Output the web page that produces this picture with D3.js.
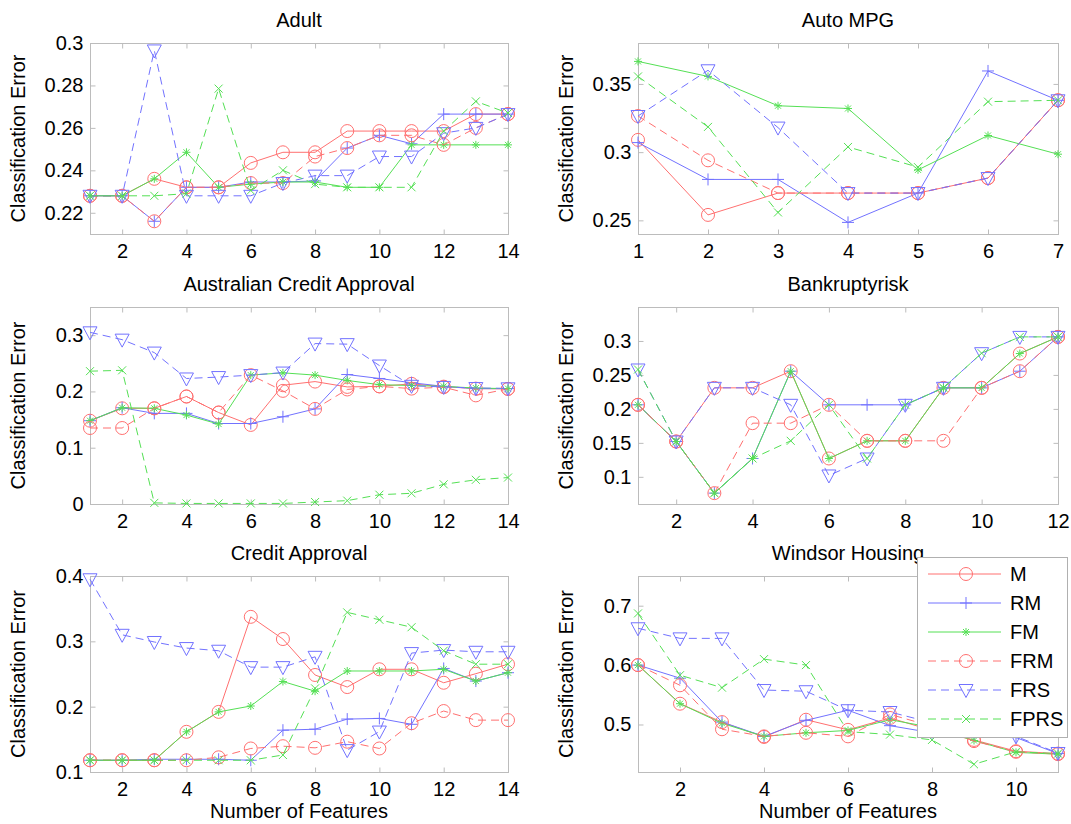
<!DOCTYPE html>
<html>
<head>
<meta charset="utf-8">
<script src="https://cdn.jsdelivr.net/npm/d3@7"></script>
<style>
  html, body { margin: 0; padding: 0; background: #fff; }
  svg { display: block; font-family: "Liberation Sans", Arial, Helvetica, sans-serif; }
</style>
</head>
<body>
<svg id="fig" width="1071" height="824"></svg>
<script>
// Feature-selection methods compared in every panel (same order in each data block)
const seriesNames = ["M", "RM", "FM", "FRM", "FRS", "FPRS"];

// Classification error vs. number of features, one row per method
const adultErr = [
  [0.228, 0.228, 0.236, 0.232, 0.232, 0.2435, 0.2485, 0.2485, 0.2585, 0.2585, 0.2585, 0.2585, 0.2665, 0.2665],
  [0.228, 0.228, 0.216, 0.232, 0.232, 0.2345, 0.2345, 0.235, 0.2505, 0.2565, 0.2525, 0.2665, 0.2665, 0.2665],
  [0.228, 0.228, 0.236, 0.2485, 0.232, 0.2335, 0.2345, 0.2345, 0.232, 0.232, 0.252, 0.252, 0.252, 0.252],
  [0.228, 0.228, 0.216, 0.232, 0.232, 0.234, 0.234, 0.2465, 0.2505, 0.2565, 0.2565, 0.252, 0.26, 0.2665],
  [0.228, 0.228, 0.2965, 0.228, 0.228, 0.228, 0.234, 0.2375, 0.2375, 0.2465, 0.2465, 0.2575, 0.26, 0.2665],
  [0.228, 0.228, 0.228, 0.229, 0.2785, 0.2305, 0.24, 0.2335, 0.232, 0.232, 0.232, 0.2585, 0.2725, 0.267]
];
const autoMpgErr = [
  [0.309, 0.254, 0.270, 0.270, 0.270, 0.281, 0.338],
  [0.307, 0.280, 0.280, 0.2485, 0.270, 0.3595, 0.338],
  [0.3665, 0.3555, 0.334, 0.332, 0.287, 0.3122, 0.2985],
  [0.3265, 0.294, 0.270, 0.270, 0.270, 0.281, 0.338],
  [0.3265, 0.360, 0.318, 0.270, 0.270, 0.281, 0.338],
  [0.3555, 0.3185, 0.2558, 0.3038, 0.289, 0.337, 0.338]
];
const australianErr = [
  [0.148, 0.170, 0.170, 0.191, 0.1625, 0.1405, 0.211, 0.2175, 0.208, 0.209, 0.2135, 0.2085, 0.205, 0.2045],
  [0.148, 0.171, 0.161, 0.161, 0.143, 0.143, 0.155, 0.169, 0.230, 0.223, 0.2155, 0.209, 0.205, 0.205],
  [0.148, 0.171, 0.170, 0.158, 0.142, 0.229, 0.233, 0.229, 0.2195, 0.212, 0.2105, 0.209, 0.206, 0.205],
  [0.135, 0.135, 0.170, 0.191, 0.1625, 0.229, 0.201, 0.169, 0.2035, 0.209, 0.205, 0.2075, 0.193, 0.2045],
  [0.305, 0.292, 0.269, 0.223, 0.2255, 0.229, 0.2335, 0.285, 0.284, 0.246, 0.210, 0.208, 0.206, 0.2055],
  [0.236, 0.2375, 0.002, 0.001, 0.001, 0.001, 0.001, 0.0035, 0.006, 0.0165, 0.019, 0.035, 0.043, 0.047]
];
const bankruptcyErr = [
  [0.206, 0.152, 0.231, 0.231, 0.2555, 0.127, 0.153, 0.153, 0.231, 0.231, 0.2815, 0.306],
  [0.206, 0.152, 0.076, 0.127, 0.2555, 0.206, 0.206, 0.206, 0.231, 0.231, 0.2555, 0.306],
  [0.206, 0.152, 0.076, 0.127, 0.2555, 0.127, 0.153, 0.153, 0.231, 0.231, 0.2815, 0.306],
  [0.206, 0.152, 0.076, 0.179, 0.179, 0.206, 0.153, 0.153, 0.153, 0.231, 0.2555, 0.306],
  [0.258, 0.152, 0.231, 0.231, 0.206, 0.102, 0.127, 0.206, 0.231, 0.282, 0.306, 0.306],
  [0.258, 0.152, 0.076, 0.127, 0.153, 0.206, 0.127, 0.206, 0.231, 0.282, 0.306, 0.306]
];
const creditErr = [
  [0.118, 0.118, 0.118, 0.1615, 0.192, 0.3375, 0.3035, 0.2485, 0.230, 0.2572, 0.2572, 0.2366, 0.2505, 0.265],
  [0.118, 0.118, 0.1195, 0.1195, 0.1195, 0.118, 0.164, 0.1655, 0.181, 0.182, 0.173, 0.2585, 0.2392, 0.252],
  [0.118, 0.118, 0.118, 0.1615, 0.192, 0.201, 0.2385, 0.2237, 0.2546, 0.2546, 0.2546, 0.2572, 0.2392, 0.252],
  [0.118, 0.118, 0.118, 0.118, 0.1225, 0.136, 0.1395, 0.137, 0.1464, 0.136, 0.1747, 0.1933, 0.1794, 0.1794],
  [0.395, 0.310, 0.299, 0.2897, 0.2856, 0.2605, 0.2605, 0.2763, 0.1335, 0.1619, 0.282, 0.2866, 0.284, 0.284],
  [0.118, 0.118, 0.118, 0.118, 0.118, 0.118, 0.126, 0.228, 0.3443, 0.333, 0.3216, 0.2856, 0.265, 0.265]
];
const windsorErr = [
  [0.600, 0.535, 0.504, 0.479, 0.508, 0.491, 0.511, 0.490, 0.474, 0.455, 0.451],
  [0.600, 0.578, 0.504, 0.480, 0.507, 0.524, 0.498, 0.486, 0.481, 0.478, 0.451],
  [0.600, 0.535, 0.502, 0.480, 0.486, 0.490, 0.508, 0.495, 0.473, 0.453, 0.450],
  [0.600, 0.566, 0.492, 0.480, 0.486, 0.480, 0.517, 0.497, 0.472, 0.454, 0.450],
  [0.662, 0.645, 0.645, 0.558, 0.556, 0.524, 0.521, 0.503, 0.490, 0.480, 0.452],
  [0.687, 0.583, 0.562, 0.610, 0.600, 0.488, 0.483, 0.474, 0.433, 0.454, 0.451]
];

// Tick values per panel
const adultXTicks = [2, 4, 6, 8, 10, 12, 14];
const adultYTicks = [0.22, 0.24, 0.26, 0.28, 0.3];
const autoMpgXTicks = [1, 2, 3, 4, 5, 6, 7];
const autoMpgYTicks = [0.25, 0.3, 0.35];
const australianXTicks = [2, 4, 6, 8, 10, 12, 14];
const australianYTicks = [0, 0.1, 0.2, 0.3];
const bankruptcyXTicks = [2, 4, 6, 8, 10, 12];
const bankruptcyYTicks = [0.1, 0.15, 0.2, 0.25, 0.3];
const creditXTicks = [2, 4, 6, 8, 10, 12, 14];
const creditYTicks = [0.1, 0.2, 0.3, 0.4];
const windsorXTicks = [2, 4, 6, 8, 10];
const windsorYTicks = [0.5, 0.6, 0.7];

const panels = [
  { title: "Adult", err: adultErr, xTicks: adultXTicks, yTicks: adultYTicks, yDomain: [0.21, 0.30], row: 0, col: 0 },
  { title: "Auto MPG", err: autoMpgErr, xTicks: autoMpgXTicks, yTicks: autoMpgYTicks, yDomain: [0.24, 0.38], row: 0, col: 1 },
  { title: "Australian Credit Approval", err: australianErr, xTicks: australianXTicks, yTicks: australianYTicks, yDomain: [0, 0.35], row: 1, col: 0 },
  { title: "Bankruptyrisk", err: bankruptcyErr, xTicks: bankruptcyXTicks, yTicks: bankruptcyYTicks, yDomain: [0.06, 0.35], row: 1, col: 1 },
  { title: "Credit Approval", err: creditErr, xTicks: creditXTicks, yTicks: creditYTicks, yDomain: [0.1, 0.4], row: 2, col: 0 },
  { title: "Windsor Housing", err: windsorErr, xTicks: windsorXTicks, yTicks: windsorYTicks, yDomain: [0.42, 0.75], row: 2, col: 1 }
];

// Layout of the 3x2 grid of axes
const colX = [[90, 508], [638, 1058]];
const rowY = [[43, 234], [307, 504], [576, 772]];

const RED = "#ff7070", BLUE = "#7272ff", GREEN = "#55e055";
const FRAME = "#bcbcbc";
const DASH = "8,5";
const styles = [
  { color: RED, dash: null, marker: "circle" },
  { color: BLUE, dash: null, marker: "plus" },
  { color: GREEN, dash: null, marker: "star" },
  { color: RED, dash: DASH, marker: "circle" },
  { color: BLUE, dash: DASH, marker: "tri" },
  { color: GREEN, dash: DASH, marker: "cross" }
];

const markerPaths = {
  plus: "M-6,0H6M0,-6V6",
  star: "M-4,0H4M0,-4V4M-3,-3L3,3M-3,3L3,-3",
  cross: "M-4,-4L4,4M-4,4L4,-4",
  tri: "M-7,-5.5L7,-5.5L0,7.5Z"
};

function drawMarker(g, type, color) {
  if (type === "circle") {
    g.append("circle").attr("r", 6.5).attr("fill", "none")
      .attr("stroke", color).attr("stroke-width", 1);
  } else {
    g.append("path").attr("d", markerPaths[type]).attr("fill", "none")
      .attr("stroke", color).attr("stroke-width", 1);
  }
}

const svg = d3.select("#fig");
const FONT = 20;

panels.forEach(p => {
  const [x0, x1] = colX[p.col];
  const [y0, y1] = rowY[p.row];
  const n = p.err[0].length;
  const x = d3.scaleLinear().domain([1, n]).range([x0, x1]);
  const y = d3.scaleLinear().domain(p.yDomain).range([y1, y0]);
  const g = svg.append("g");

  // frame
  g.append("rect").attr("x", x0 + 0.5).attr("y", y0 + 0.5)
    .attr("width", x1 - x0).attr("height", y1 - y0)
    .attr("fill", "#fff").attr("stroke", FRAME).attr("stroke-width", 1);

  const styleAxis = (sel) => {
    sel.select(".domain").remove();
    sel.selectAll(".tick line").attr("stroke", FRAME);
    sel.selectAll(".tick text").attr("fill", "#000")
      .attr("font-size", FONT).attr("font-family", "Liberation Sans, Arial, sans-serif");
  };

  // inward ticks on all four sides, labels on bottom and left
  g.append("g").attr("transform", `translate(0,${y1 + 0.5})`)
    .call(d3.axisBottom(x).tickValues(p.xTicks).tickSizeInner(-5).tickSizeOuter(0)
      .tickPadding(9).tickFormat(d3.format("d")))
    .call(styleAxis);
  g.append("g").attr("transform", `translate(0,${y0 + 0.5})`)
    .call(d3.axisTop(x).tickValues(p.xTicks).tickSizeInner(-5).tickSizeOuter(0).tickFormat(""))
    .call(styleAxis);
  g.append("g").attr("transform", `translate(${x0 + 0.5},0)`)
    .call(d3.axisLeft(y).tickValues(p.yTicks).tickSizeInner(-5).tickSizeOuter(0)
      .tickPadding(7).tickFormat(d3.format("~g")))
    .call(styleAxis);
  g.append("g").attr("transform", `translate(${x1 + 0.5},0)`)
    .call(d3.axisRight(y).tickValues(p.yTicks).tickSizeInner(-5).tickSizeOuter(0).tickFormat(""))
    .call(styleAxis);

  // series lines and markers
  const line = d3.line().x((d, i) => x(i + 1)).y(d => y(d));
  p.err.forEach((vals, si) => {
    const st = styles[si];
    g.append("path").datum(vals).attr("d", line)
      .attr("fill", "none").attr("stroke", st.color).attr("stroke-width", 1)
      .attr("stroke-dasharray", st.dash);
    vals.forEach((v, i) => {
      const m = g.append("g").attr("transform", `translate(${x(i + 1)},${y(v)})`);
      drawMarker(m, st.marker, st.color);
    });
  });

  // title
  g.append("text").attr("x", (x0 + x1) / 2).attr("y", y0 - 16)
    .attr("text-anchor", "middle").attr("font-size", FONT).attr("fill", "#000")
    .text(p.title);

  // y label
  g.append("text")
    .attr("transform", `translate(${x0 - 65},${(y0 + y1) / 2}) rotate(-90)`)
    .attr("text-anchor", "middle").attr("font-size", FONT).attr("fill", "#000")
    .text("Classification Error");

  // x label on the bottom row
  if (p.row === 2) {
    g.append("text").attr("x", (x0 + x1) / 2).attr("y", y1 + 46)
      .attr("text-anchor", "middle").attr("font-size", FONT).attr("fill", "#000")
      .text("Number of Features");
  }
});

// legend box, placed over the Windsor Housing axes
const leg = svg.append("g").attr("transform", "translate(917,557)");
leg.append("rect").attr("x", 0.5).attr("y", 0.5).attr("width", 150).attr("height", 180)
  .attr("fill", "#fff").attr("stroke", "#b0b0b0").attr("stroke-width", 1);
seriesNames.forEach((name, i) => {
  const st = styles[i];
  const cy = 17 + i * 29;
  leg.append("line").attr("x1", 11).attr("x2", 84).attr("y1", cy).attr("y2", cy)
    .attr("stroke", st.color).attr("stroke-width", 1).attr("stroke-dasharray", st.dash);
  const m = leg.append("g").attr("transform", `translate(49,${cy})`);
  drawMarker(m, st.marker, st.color);
  leg.append("text").attr("x", 93).attr("y", cy + 7).attr("font-size", FONT)
    .attr("fill", "#000").text(name);
});
</script>
</body>
</html>
